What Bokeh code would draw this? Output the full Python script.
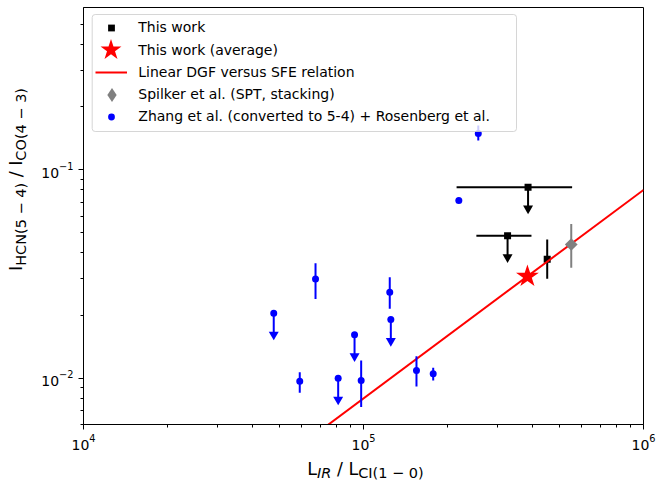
import math
from bokeh.plotting import figure
from bokeh.layouts import row, column
from bokeh.models import (ColumnDataSource, Legend, LegendItem, Label,
                          BoxAnnotation, FixedTicker)
from bokeh.embed import file_html
from bokeh.resources import INLINE

# ---------------- data ----------------
# This work
tw_x = [3.87e5, 3.27e5, 4.53e5]
tw_y = [0.0825, 0.0482, 0.0372]
tw_x_low = [2.15e5, 2.53e5, 4.53e5]
tw_x_high = [5.56e5, 3.98e5, 4.53e5]
tw_y_low = [0.0825, 0.0482, 0.0300]
tw_y_high = [0.0825, 0.0482, 0.0463]
tw_upper = [True, True, False]

# This work (average)
avg_x = [3.85e5]
avg_y = [0.0308]

# Linear DGF versus SFE relation
rel_x = [1e4, 1e6]
rel_y = [8.0e-4, 8.0e-2]

# Spilker et al. (SPT, stacking)
spk_x = [5.52e5]
spk_y = [0.0438]
spk_y_low = [0.0339]
spk_y_high = [0.0550]

# Zhang et al. (converted to 5-4) + Rosenberg et al.
zh_x = [4.78e4, 6.74e4, 5.92e4, 8.12e4, 9.29e4, 9.81e4,
        1.241e5, 1.252e5, 1.546e5, 1.774e5, 2.19e5, 2.57e5]
zh_y = [0.0205, 0.0299, 0.00968, 0.0100, 0.01616, 0.00976,
        0.02586, 0.01913, 0.0109, 0.0105, 0.0712, 0.1493]
zh_y_low = [0.0205, 0.0240, 0.00852, 0.0100, 0.01616, 0.00727,
            0.02153, 0.01913, 0.00913, 0.00976, 0.0712, 0.138]
zh_y_high = [0.0205, 0.0356, 0.01069, 0.0100, 0.01616, 0.01217,
             0.03053, 0.01913, 0.01276, 0.01122, 0.0712, 0.163]
zh_upper = [True, False, False, True, True, False,
            False, True, False, False, False, False]

# axis ticks
x_major = [1e4, 1e5, 1e6]
x_minor = [2e4, 3e4, 4e4, 5e4, 6e4, 7e4, 8e4, 9e4,
           2e5, 3e5, 4e5, 5e5, 6e5, 7e5, 8e5, 9e5]
y_major = [0.01, 0.1]
y_minor = [0.006, 0.007, 0.008, 0.009,
           0.02, 0.03, 0.04, 0.05, 0.06, 0.07, 0.08, 0.09,
           0.2, 0.3, 0.4, 0.5]

legend_labels = ["This work", "This work (average)",
                 "Linear DGF versus SFE relation",
                 "Spilker et al. (SPT, stacking)",
                 "Zhang et al. (converted to 5-4) + Rosenberg et al."]

# axis label pieces: (text, is_subscript, italic); None = a space
x_label_pieces = [("L", False, False), ("IR", True, True), None,
                  ("/", False, False), None, ("L", False, False),
                  ("CI(1 \u2212 0)", True, False)]
y_label_pieces = [("I", False, False), ("HCN(5 \u2212 4)", True, False), None,
                  ("/", False, False), None, ("I", False, False),
                  ("CO(4 \u2212 3)", True, False)]

# ---------------- styles ----------------
FONT = "DejaVu Sans"
BLUE = "#0000ff"
RED = "#ff0000"
GRAY = "#808080"
ARROW = 0.79  # length factor of upper-limit arrows (log axis)
MAIN, SUB = 17.5, 14.5
BASE_SHIFT = 0.346  # label anchor sits this many em above the drawn baseline

PAGE_W, PAGE_H = 656, 482
YL_W = 34            # width of the y-label strip
P_W, P_H = 622, 456  # main plot
XL_H = PAGE_H - P_H  # height of the x-label strip

p = figure(width=P_W, height=P_H, x_axis_type="log", y_axis_type="log",
           x_range=(1e4, 1e6), y_range=(0.006, 0.6),
           output_backend="svg", toolbar_location=None, title=None,
           min_border_left=49, min_border_right=13,
           min_border_top=7, min_border_bottom=32)
p.xgrid.visible = False
p.ygrid.visible = False
p.outline_line_color = "black"
p.outline_line_width = 1
p.background_fill_color = "white"
p.border_fill_color = "white"

p.xaxis.ticker = FixedTicker(ticks=x_major, minor_ticks=x_minor)
p.yaxis.ticker = FixedTicker(ticks=y_major, minor_ticks=y_minor)
for ax in (p.xaxis[0], p.yaxis[0]):
    ax.axis_line_color = "black"
    ax.axis_line_width = 1
    ax.major_tick_line_color = "black"
    ax.minor_tick_line_color = "black"
    ax.major_tick_in = 0
    ax.major_tick_out = 5
    ax.minor_tick_in = 0
    ax.minor_tick_out = 3
    ax.major_label_text_font = FONT
    ax.major_label_text_font_size = "14px"
    ax.major_label_text_color = "black"
p.xaxis[0].major_label_standoff = 4
p.yaxis[0].major_label_standoff = 5

# ---------------- This work ----------------
tw_src = ColumnDataSource(dict(x=tw_x, y=tw_y, xl=tw_x_low, xh=tw_x_high,
                               yl=tw_y_low, yh=tw_y_high))
p.segment(x0="xl", y0="y", x1="xh", y1="y", source=tw_src,
          line_color="black", line_width=2)
p.segment(x0="x", y0="yl", x1="x", y1="yh", source=tw_src,
          line_color="black", line_width=2)
tw_ul_x = [x for x, u in zip(tw_x, tw_upper) if u]
tw_ul_y = [y for y, u in zip(tw_y, tw_upper) if u]
tw_ul_end = [y * ARROW for y in tw_ul_y]
p.segment(x0=tw_ul_x, y0=tw_ul_y, x1=tw_ul_x, y1=tw_ul_end,
          line_color="black", line_width=2)
p.scatter(tw_ul_x, tw_ul_end, marker="inverted_triangle", size=10,
          fill_color="black", line_color=None)
tw_r = p.scatter("x", "y", source=tw_src, marker="square", size=7,
                 fill_color="black", line_color=None)

# ---------------- relation line ----------------
rel_r = p.line(rel_x, rel_y, line_color=RED, line_width=2)

# ---------------- average star ----------------
avg_r = p.scatter(avg_x, avg_y, marker="star", size=24,
                  fill_color=RED, line_color=None)

# ---------------- Spilker ----------------
p.segment(x0=spk_x, y0=spk_y_low, x1=spk_x, y1=spk_y_high,
          line_color=GRAY, line_width=2)
p.scatter(spk_x, spk_y, marker="square", angle=math.pi / 4, size=9,
          fill_color=GRAY, line_color=None)
spk_leg = p.scatter(spk_x, spk_y, marker="diamond", size=14,
                    fill_color=GRAY, line_color=None, visible=False)

# ---------------- Zhang + Rosenberg ----------------
zh_src = ColumnDataSource(dict(x=zh_x, y=zh_y, yl=zh_y_low, yh=zh_y_high))
p.segment(x0="x", y0="yl", x1="x", y1="yh", source=zh_src,
          line_color=BLUE, line_width=2)
zh_ul_x = [x for x, u in zip(zh_x, zh_upper) if u]
zh_ul_y = [y for y, u in zip(zh_y, zh_upper) if u]
zh_ul_end = [y * ARROW for y in zh_ul_y]
p.segment(x0=zh_ul_x, y0=zh_ul_y, x1=zh_ul_x, y1=zh_ul_end,
          line_color=BLUE, line_width=2)
p.scatter(zh_ul_x, zh_ul_end, marker="inverted_triangle", size=10,
          fill_color=BLUE, line_color=None)
zh_r = p.scatter("x", "y", source=zh_src, marker="circle", size=7,
                 fill_color=BLUE, line_color=None)

# ---------------- legend ----------------
box = BoxAnnotation(left=8.7, right=433, top=410, bottom=293,
                    left_units="screen", right_units="screen",
                    top_units="screen", bottom_units="screen",
                    fill_color="white", fill_alpha=0.8,
                    line_color="#cccccc", line_alpha=0.8, line_width=1,
                    border_radius=3)
p.add_layout(box)

GLYPH_CX = 28.7   # legend glyph centre (screen, from frame left)
TEXT_X = 55.3     # legend text start
rows = [
    (tw_r, legend_labels[0], 396.7, 32, 17),
    (avg_r, legend_labels[1], 374.5, 55, 55),
    (rel_r, legend_labels[2], 352.3, 32, 20),
    (spk_leg, legend_labels[3], 330.0, 35, 35),
    (zh_r, legend_labels[4], 307.7, 32, 17),
]
for rend, lab, yc, gw, gh in rows:
    standoff = max(0, int(round(TEXT_X - GLYPH_CX - gw / 2)))
    x0 = TEXT_X - gw - standoff
    leg = Legend(items=[LegendItem(label=lab, renderers=[rend])],
                 location=(x0, yc - gh / 2), orientation="vertical",
                 glyph_width=gw, glyph_height=gh, label_height=gh,
                 label_standoff=standoff, padding=0, margin=0, spacing=0,
                 border_line_color=None, background_fill_alpha=0,
                 label_text_font=FONT, label_text_font_size="14px",
                 label_text_color="black")
    p.add_layout(leg)

# ---------------- axis labels (with subscripts) ----------------
W = {' ': 0.318, '(': 0.390, ')': 0.390, '/': 0.337, '0': 0.636,
     '1': 0.636, '3': 0.636, '4': 0.636, '5': 0.636, 'C': 0.698,
     'H': 0.752, 'I': 0.295, 'L': 0.557, 'N': 0.748, 'O': 0.787,
     'R': 0.695, '\u2212': 0.838}


def piece_w(pc):
    if pc is None:
        return W[' '] * MAIN
    txt, sub, _ = pc
    return sum(W.get(c, 0.6) for c in txt) * (SUB if sub else MAIN)


def strip(w, h):
    f = figure(width=w, height=h, x_range=(0, w), y_range=(0, h),
               output_backend="svg", toolbar_location=None, title=None,
               x_axis_location=None, y_axis_location=None, min_border=0)
    f.xgrid.visible = False
    f.ygrid.visible = False
    f.outline_line_color = None
    f.background_fill_color = "white"
    f.border_fill_color = "white"
    f.align = "start"
    return f


def place(f, pieces, center, main_base, sub_base, vertical):
    """main_base / sub_base: wanted baseline, measured in the direction the
    glyphs' tops point to (up for horizontal, left for vertical text)."""
    total = sum(piece_w(pc) for pc in pieces)
    pos = center - total / 2
    for pc in pieces:
        if pc is not None:
            txt, sub, ital = pc
            size = SUB if sub else MAIN
            base = (sub_base if sub else main_base) + BASE_SHIFT * size
            if vertical:
                xs, ys = -base, pos
            else:
                xs, ys = pos, base
            f.add_layout(Label(x=xs, y=ys, x_units="screen", y_units="screen",
                               text=txt, text_font=FONT,
                               text_font_size=f"{size}px",
                               text_font_style="italic" if ital else "normal",
                               text_color="black", text_align="left",
                               text_baseline="alphabetic",
                               angle=math.pi / 2 if vertical else 0))
        pos += piece_w(pc)


# y label strip (beside the plot): screen y = P_H - page y;
# baselines given as -(page x) so that "up" for the rotated text is +
ylab = strip(YL_W, P_H)
place(ylab, y_label_pieces, P_H - 211, -22, -26, True)

# x label strip (full page width, under the plot): screen y = PAGE_H - page y
xlab = strip(PAGE_W, XL_H)
place(xlab, x_label_pieces, 365, PAGE_H - 474.5, PAGE_H - 477.5, False)

top = row(ylab, p)
top.align = "start"
layout = column(top, xlab)
open("out.html", "w").write(file_html(layout, INLINE))
